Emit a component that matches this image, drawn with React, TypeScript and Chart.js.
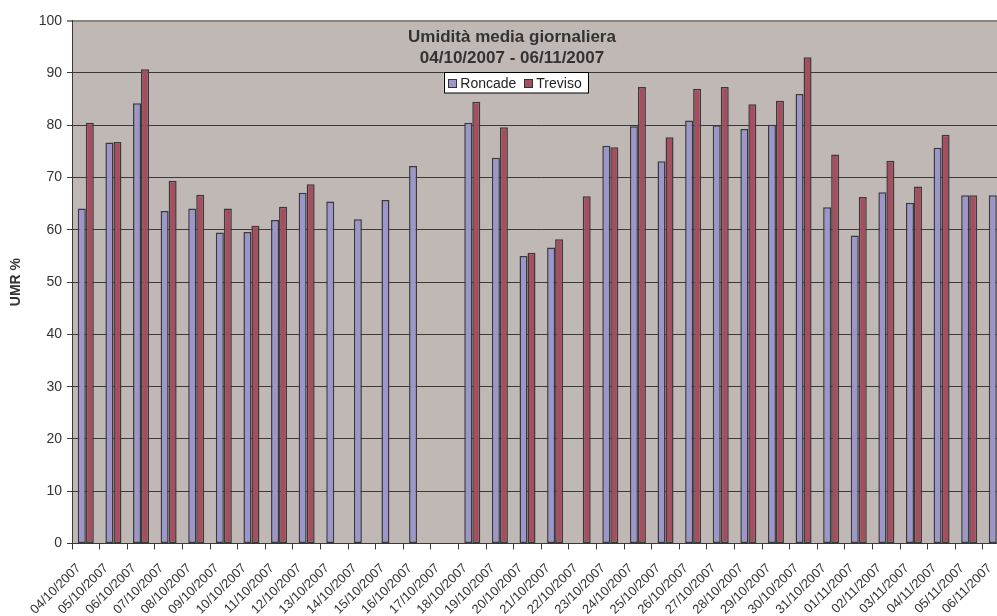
import { useEffect, useRef } from 'react';
import Chart from 'chart.js/auto';

const FONT = "'Liberation Sans', Arial, sans-serif";

const dates = [
  '04/10/2007', '05/10/2007', '06/10/2007', '07/10/2007', '08/10/2007', '09/10/2007',
  '10/10/2007', '11/10/2007', '12/10/2007', '13/10/2007', '14/10/2007', '15/10/2007',
  '16/10/2007', '17/10/2007', '18/10/2007', '19/10/2007', '20/10/2007', '21/10/2007',
  '22/10/2007', '23/10/2007', '24/10/2007', '25/10/2007', '26/10/2007', '27/10/2007',
  '28/10/2007', '29/10/2007', '30/10/2007', '31/10/2007', '01/11/2007', '02/11/2007',
  '03/11/2007', '04/11/2007', '05/11/2007', '06/11/2007',
];

const roncade = [
  64.1, 76.7, 84.2, 63.6, 64.1, 59.5, 59.6, 61.9, 67.1, 65.4, 62.0, 65.7, 72.2, null,
  80.5, 73.8, 55.0, 56.6, null, 76.1, 79.8, 73.1, 80.9, 80.0, 79.3, 80.1, 86.0, 64.3,
  58.9, 67.2, 65.2, 75.7, 66.6, 66.6,
];

const treviso = [
  80.5, 76.8, 90.7, 69.4, 66.7, 64.1, 60.8, 64.4, 68.7, null, null, null, null, null,
  84.5, 79.6, 55.6, 58.2, 66.4, 75.8, 87.3, 77.7, 87.0, 87.3, 84.0, 84.7, 93.0, 74.4,
  66.3, 73.2, 68.3, 78.2, 66.6, null,
];

const titleLines = ['Umidità media giornaliera', '04/10/2007 - 06/11/2007'];
const yTitle = 'UMR %';

// title and legend sit inside the plot area, as in the original spreadsheet chart
const overlayPlugin = {
  id: 'overlay',
  afterDraw(chart: any) {
    const { ctx, width } = chart;
    ctx.save();
    ctx.fillStyle = '#333333';
    ctx.textAlign = 'center';
    ctx.textBaseline = 'alphabetic';
    ctx.font = `bold 17px ${FONT}`;
    ctx.fillText(titleLines[0], width / 2, 41.7);
    ctx.fillText(titleLines[1], width / 2, 62.7);

    ctx.font = `14px ${FONT}`;
    ctx.textAlign = 'left';
    const items = chart.data.datasets.map((ds: any) => ({
      label: ds.label,
      color: ds.backgroundColor,
      w: ctx.measureText(ds.label).width,
    }));
    const sq = 8, gapSq = 4, gapItem = 8, padL = 4.5, padR = 6.5;
    let total = padL + padR + gapItem * (items.length - 1);
    items.forEach((it: any) => (total += sq + gapSq + it.w));
    const left = 516 - total / 2;
    const top = 72.5, h = 20.5;
    ctx.fillStyle = '#ffffff';
    ctx.fillRect(left, top, total, h);
    ctx.strokeStyle = '#000000';
    ctx.lineWidth = 1;
    ctx.strokeRect(Math.round(left) + 0.5, top, Math.round(total), h);
    let x = left + padL;
    items.forEach((it: any) => {
      ctx.fillStyle = it.color;
      ctx.fillRect(x, 79, sq, sq);
      ctx.strokeStyle = '#333333';
      ctx.strokeRect(Math.round(x) + 0.5, 79.5, sq, sq);
      x += sq + gapSq;
      ctx.fillStyle = '#222222';
      ctx.fillText(it.label, x, 87.7);
      x += it.w + gapItem;
    });
    ctx.restore();
  },
};

const plotBackground = {
  id: 'plotBackground',
  beforeDraw(chart: any) {
    const { ctx, chartArea } = chart;
    ctx.save();
    ctx.fillStyle = '#c0b8b5';
    ctx.fillRect(chartArea.left, chartArea.top, chartArea.right - chartArea.left, chartArea.bottom - chartArea.top);
    ctx.restore();
  },
};

const App = () => {
  const canvasRef = useRef<HTMLCanvasElement | null>(null);
  const chartRef = useRef<Chart | null>(null);

  useEffect(() => {
    if (!canvasRef.current) return;
    if (chartRef.current) chartRef.current.destroy();

    Chart.defaults.font.family = FONT;

    chartRef.current = new Chart(canvasRef.current, {
      type: 'bar',
      data: {
        labels: dates,
        datasets: [
          {
            label: 'Roncade',
            data: roncade,
            backgroundColor: '#9c96ca',
            borderColor: '#3a3a3a',
            borderWidth: 1.5,
            borderSkipped: false,
            categoryPercentage: 0.58,
            barPercentage: 1,
          },
          {
            label: 'Treviso',
            data: treviso,
            backgroundColor: '#a54e60',
            borderColor: '#3a3a3a',
            borderWidth: 1.5,
            borderSkipped: false,
            categoryPercentage: 0.58,
            barPercentage: 1,
          },
        ],
      },
      options: {
        responsive: false,
        animation: false,
        layout: { padding: { top: 20.7, right: 13.4, left: 0, bottom: 0 } },
        plugins: {
          legend: { display: false },
          title: { display: false },
          tooltip: { enabled: false },
        },
        scales: {
          x: {
            grid: {
              offset: true,
              drawOnChartArea: false,
              drawTicks: true,
              tickLength: 6,
              color: '#3a3a3a',
            },
            border: { display: true, color: '#3a3a3a', width: 1 },
            ticks: {
              autoSkip: false,
              minRotation: 45,
              maxRotation: 45,
              padding: 11,
              labelOffset: -7,
              color: '#333333',
              font: { size: 13 },
            },
            afterFit: (scale: any) => {
              scale.height = 72.5;
            },
          },
          y: {
            min: 0,
            max: 100,
            ticks: {
              stepSize: 10,
              padding: 5,
              color: '#333333',
              font: { size: 14 },
            },
            grid: {
              color: (c: any) => (c.tick && c.tick.value === 100 ? '#8a8481' : '#3a3a3a'),
              lineWidth: (c: any) => (c.tick && c.tick.value === 100 ? 2 : 1),
              tickLength: 5,
            },
            border: { display: true, color: '#3a3a3a', width: 1 },
            title: {
              display: true,
              text: yTitle,
              color: '#333333',
              font: { size: 14, weight: 'bold' },
              padding: { top: 8, bottom: 0 },
            },
            afterFit: (scale: any) => {
              scale.width = 72;
            },
          },
        },
      },
      plugins: [plotBackground, overlayPlugin],
    });

    return () => {
      if (chartRef.current) {
        chartRef.current.destroy();
        chartRef.current = null;
      }
    };
  }, []);

  return (
    <div
      style={{
        position: 'absolute',
        left: 0,
        top: 0,
        width: 997,
        height: 616,
        overflow: 'hidden',
        background: '#ffffff',
      }}
    >
      <canvas ref={canvasRef} width={1024} height={616} style={{ width: 1024, height: 616, display: 'block' }}></canvas>
    </div>
  );
};

export default App;
